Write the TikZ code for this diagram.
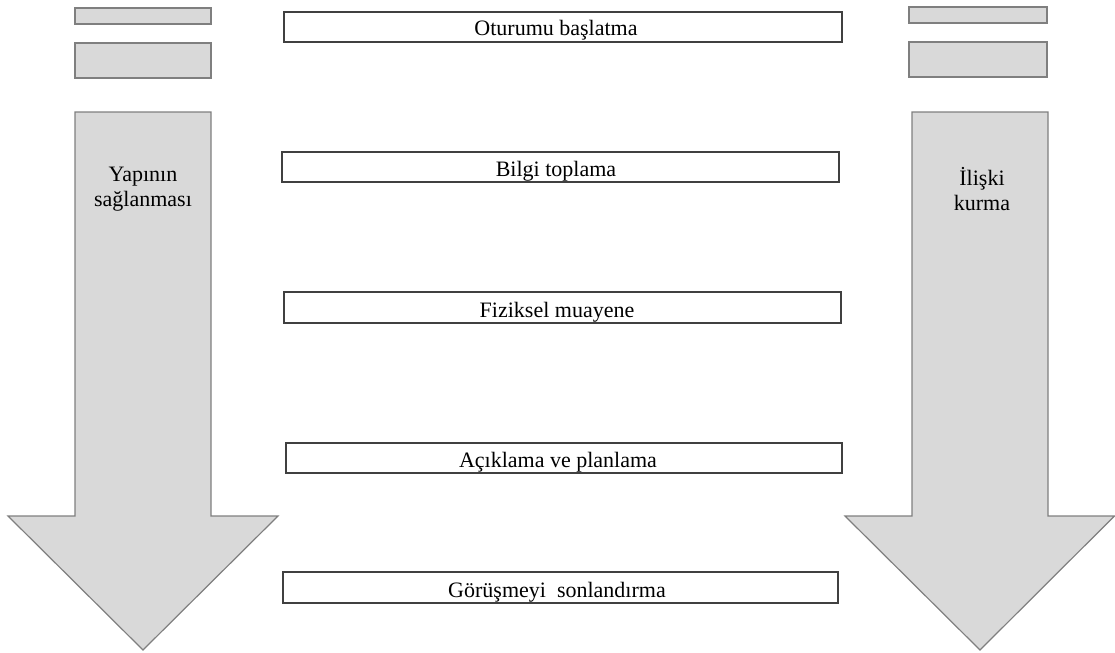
\documentclass[tikz,border=0pt]{standalone}
\usepackage{fontspec}
\setmainfont{Liberation Serif}
\begin{document}
\begin{tikzpicture}[x=0.75pt,y=-0.75pt,
  graybar/.style={fill=barfill,draw=barline,line width=0.9pt},
  stepbox/.style={fill=white,draw=boxline,line width=0.8pt},
  lbl/.style={inner sep=0pt,anchor=base,font=\fontsize{16.5}{18.75}\selectfont},
  arrlbl/.style={inner sep=0pt,align=center,font=\fontsize{16.5}{18.75}\selectfont}]
\definecolor{barfill}{HTML}{D9D9D9}
\definecolor{barline}{HTML}{7F7F7F}
\definecolor{boxline}{HTML}{404040}
\useasboundingbox (0,0) rectangle (1115,653);
% left column
\draw[graybar] (75,8) rectangle (211,24);
\draw[graybar] (75,43) rectangle (211,78);
\draw[graybar] (75,112) -- (211,112) -- (211,516) -- (278,516) -- (143,650) -- (8,516) -- (75,516) -- cycle;
\node[arrlbl] (yap) at (143,189) {Yapının\\sağlanması};
% right column
\draw[graybar] (909,7) rectangle (1047,23);
\draw[graybar] (909,42) rectangle (1047,77);
\draw[graybar] (912,112) -- (1048,112) -- (1048,516) -- (1114.5,516) -- (980,650) -- (845,516) -- (912,516) -- cycle;
\node[arrlbl] (ilis) at (982,189) {İlişki\\kurma};
% centre steps
\draw[stepbox] (284,12) rectangle (842,42);
\node[lbl] (s1) at (556,36) {Oturumu başlatma};
\draw[stepbox] (282,152) rectangle (839,182);
\node[lbl] (s2) at (556,176) {Bilgi toplama};
\draw[stepbox] (284,292) rectangle (841,323);
\node[lbl] (s3) at (557,317) {Fiziksel muayene};
\draw[stepbox] (286,443) rectangle (842,473);
\node[lbl] (s4) at (558,467) {Açıklama ve planlama};
\draw[stepbox] (283,572) rectangle (838,603);
\node[lbl] (s5) at (557,597) {Görüşmeyi\ \ sonlandırma};
\end{tikzpicture}
\end{document}
